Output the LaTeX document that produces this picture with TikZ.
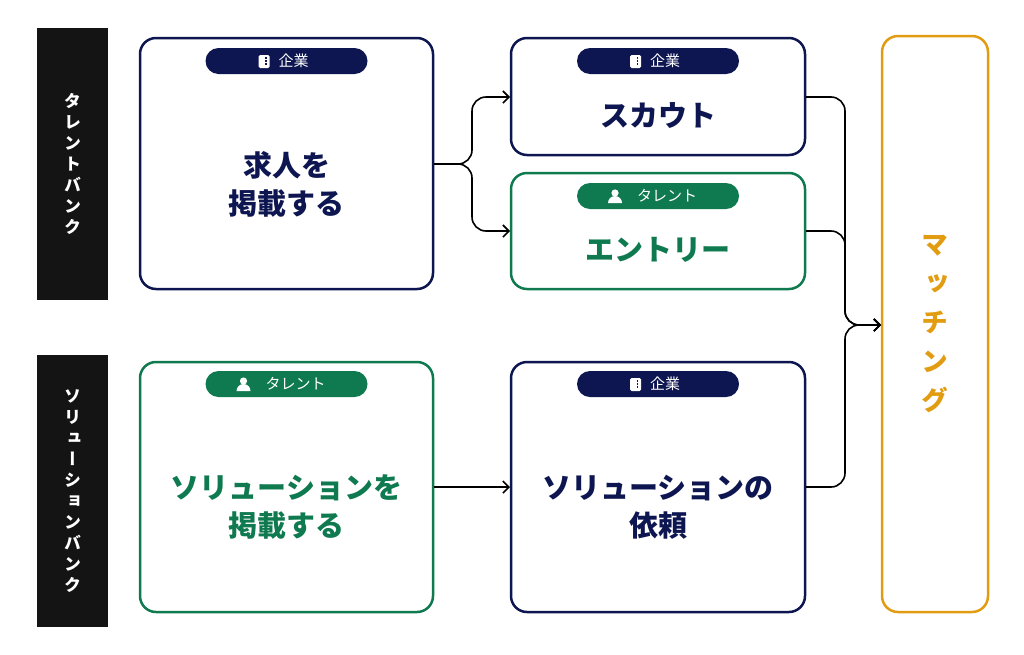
\documentclass[tikz,border=0pt]{standalone}
\usepackage{fontspec}
\setmainfont{Noto Sans CJK JP}
\newfontfamily\jpv[RawFeature=+vert]{Noto Sans CJK JP}
\usetikzlibrary{arrows.meta, positioning, calc}
\definecolor{navyblue}{HTML}{0D1650}
\definecolor{talentgreen}{HTML}{0F7A4F}
\definecolor{matchorange}{HTML}{E29C12}
\definecolor{barblack}{HTML}{141414}
\newcommand{\corpbadge}[2]{%
  \node[badge, fill=navyblue] (#1) at #2 {\hspace{14pt}企業};
  \fill[white, rounded corners=1.5pt] ($(#1)+(-28,-6)$) rectangle ++(11,13);
  \foreach \r in {-3,0,3} {\fill[navyblue] ($(#1)+(-21.5,\r-0.8)$) rectangle ++(1.6,1.6);}
}
\newcommand{\talentbadge}[2]{%
  \node[badge, fill=talentgreen] (#1) at #2 {\hspace{18pt}タレント};
  \fill[white] ($(#1)+(-43,-3)$) circle (3.6pt);
  \fill[white] ($(#1)+(-50,7)$) arc (180:360:7pt and -7pt) -- cycle;
}
\begin{document}
\begin{tikzpicture}[
    x=1pt, y=-1pt,
    card/.style={line width=2.5pt, rounded corners=16pt, fill=white},
    badge/.style={rounded corners=13pt, minimum width=162pt, minimum height=26pt, inner sep=0pt, text=white, font=\fontsize{15}{17}\selectfont},
    title/.style={font=\fontsize{29}{38}\selectfont\bfseries, align=center},
    bar/.style={fill=barblack, text=white, minimum width=71pt, inner sep=0pt, font=\jpv\fontsize{17}{21}\selectfont\bfseries, align=center},
    flow/.style={-{Straight Barb[length=6pt, width=12pt]}, line width=1.6pt, rounded corners=14pt},
]
\useasboundingbox (0,0) rectangle (1024,654);

% side bars
\node[bar, minimum height=272pt] (bank1) at (72.5, 164) {タ\\レ\\ン\\ト\\バ\\ン\\ク};
\node[bar, minimum height=272pt] (bank2) at (72.5, 491) {ソ\\リ\\ュ\\ー\\シ\\ョ\\ン\\バ\\ン\\ク};

% cards
\draw[card, draw=navyblue] (140,38) rectangle (433,289);
\draw[card, draw=navyblue] (511,38) rectangle (805,155);
\draw[card, draw=talentgreen] (511,173) rectangle (805,289);
\draw[card, draw=talentgreen] (140,362) rectangle (433,612);
\draw[card, draw=navyblue] (511,362) rectangle (805,612);
\draw[card, draw=matchorange] (882,36) rectangle (988,612);

% badges
\corpbadge{badgeA}{(286.5,61)}
\corpbadge{badgeB}{(658,61)}
\talentbadge{badgeC}{(658,196)}
\talentbadge{badgeD}{(286.5,384)}
\corpbadge{badgeE}{(658,384)}

% titles
\node[title, text=navyblue] (post) at (286.5,184) {求人を\\掲載する};
\node[title, text=navyblue] (scout) at (658,116) {スカウト};
\node[title, text=talentgreen] (entry) at (658,250) {エントリー};
\node[title, text=talentgreen] (solpost) at (286.5,507) {ソリューションを\\掲載する};
\node[title, text=navyblue] (solreq) at (658,507) {ソリューションの\\依頼};
\node[font=\jpv\fontsize{27}{39}\selectfont\bfseries, text=matchorange, align=center] (match) at (935,324) {マ\\ッ\\チ\\ン\\グ};

% connectors
\coordinate (postR) at (434,164);
\coordinate (scoutL) at (510,97);
\coordinate (entryL) at (510,231);
\coordinate (scoutR) at (806,97);
\coordinate (entryR) at (806,231);
\coordinate (solpostR) at (434,487);
\coordinate (solreqL) at (510,487);
\coordinate (solreqR) at (806,487);
\coordinate (matchL) at (881,325);
\draw[flow] (postR) -- (472,164) -- (472,97) -- (scoutL);
\draw[flow] (postR) -- (472,164) -- (472,231) -- (entryL);
\draw[flow] (scoutR) -- (845,97) -- (845,325) -- (matchL);
\draw[flow] (entryR) -- (845,231) -- (845,325) -- (matchL);
\draw[flow] (solreqR) -- (845,487) -- (845,325) -- (matchL);
\draw[flow] (solpostR) -- (solreqL);
\end{tikzpicture}
\end{document}
